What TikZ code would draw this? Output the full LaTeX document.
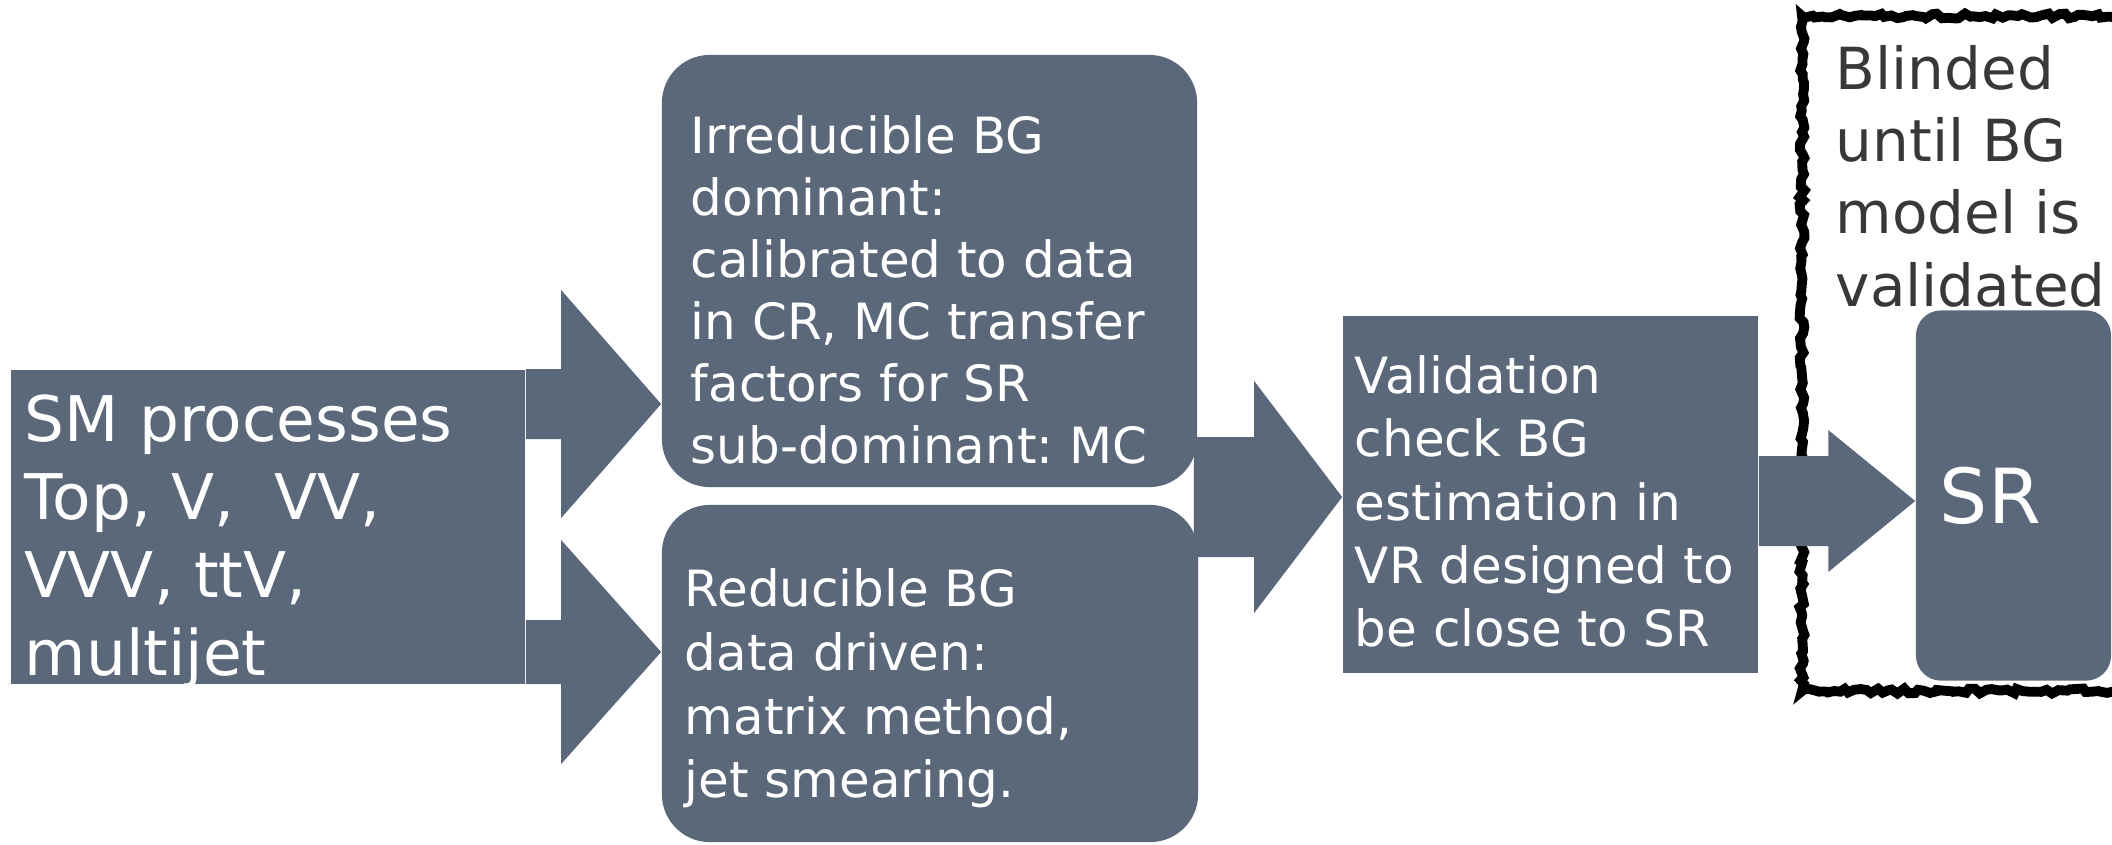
\documentclass[tikz,border=0pt]{standalone}
\usepackage{fontspec}
\setmainfont{DejaVu Sans}
\frenchspacing
\usepackage{tikz}
\usetikzlibrary{positioning,calc,backgrounds,decorations.pathmorphing}

\definecolor{slate}{RGB}{90,104,121}
\definecolor{inkgray}{RGB}{56,56,56}

\tikzset{
  block/.style={fill=slate, inner sep=0pt},
  roundblock/.style={block, rounded corners=0.48cm},
  boxtext/.style={text=white, align=left, inner sep=0pt, anchor=west},
  chalk/.style={draw=black, line width=2.8pt, decorate,
    decoration={random steps, segment length=1.5pt, amplitude=0.7pt}},
}

% block arrow: start, tip, half shaft, half head, head length
\newcommand{\blockarrow}[5]{%
  \fill[slate] ($(#1)+(0,#3)$) -- ($(#2)+(-#5,#3)$) -- ($(#2)+(-#5,#4)$) -- (#2)
    -- ($(#2)+(-#5,-#4)$) -- ($(#2)+(-#5,-#3)$) -- ($(#1)+(0,-#3)$) -- cycle;}

\begin{document}
\begin{tikzpicture}[x=0.01cm, y=-0.01cm]
\pgfmathsetseed{7}
\useasboundingbox (0,0) rectangle (2112,844);
\clip (0,0) rectangle (2112,844);

% boxes
\node[block, minimum width=5.14cm, minimum height=3.14cm] (sm) at (268,527) {};
\node[roundblock, minimum width=5.35cm, minimum height=4.32cm] (irr) at (929.5,271) {};
\node[roundblock, minimum width=5.36cm, minimum height=3.37cm] (red) at (930,673.5) {};
\node[block, minimum width=4.15cm, minimum height=3.57cm] (val) at (1550.5,494.5) {};
\node[block, rounded corners=0.25cm, minimum width=1.95cm, minimum height=3.70cm] (sr) at (2013.5,495.5) {};

% texts
\node[boxtext, right=0.14cm of sm.west, yshift=-0.15cm,
  font=\fontsize{17.9}{22.2}\selectfont] (smtext)
  {SM processes\\Top, V,~ VV,\\VVV, ttV,\\multijet};
\node[boxtext, right=0.29cm of irr.west, yshift=-0.19cm,
  font=\fontsize{14.2}{17.6}\selectfont] (irrtext)
  {Irreducible BG\\dominant:\\calibrated to data\\in CR, MC transfer\\factors for SR\\sub-dominant: MC};
\node[boxtext, right=0.23cm of red.west, yshift=-0.15cm,
  font=\fontsize{14.2}{18.1}\selectfont] (redtext)
  {Reducible BG\\data driven:\\matrix method,\\jet smearing.};
\node[boxtext, right=0.12cm of val.west, yshift=-0.07cm,
  font=\fontsize{14.2}{18.0}\selectfont] (valtext)
  {Validation\\check BG\\estimation in\\VR designed to\\be close to SR};
\node[boxtext, right=0.24cm of sr.west, font=\fontsize{21.6}{26}\selectfont] (srtext) {SR};
\node[text=inkgray, align=left, anchor=north west, inner sep=0pt,
  font=\fontsize{16.5}{20.5}\selectfont] (blind) at (1835,45)
  {Blinded\\until BG\\model is\\validated};

\coordinate (up) at (0,404);
\coordinate (lo) at (0,652);
\coordinate (mid) at (0,497);
\coordinate (srl) at (0,501);
\coordinate (join) at ($(irr.east |- mid)+(-4,0)$);

\begin{scope}[on background layer]
% blinded region
\draw[chalk] (1802,16) rectangle (2170,691);
% arrows
\blockarrow{sm.east |- up}{irr.west |- up}{35}{114}{100}
\blockarrow{sm.east |- lo}{red.west |- lo}{32}{112}{100}
\blockarrow{join}{val.west |- mid}{60}{116}{88}
\blockarrow{val.east |- srl}{sr.west |- srl}{45}{71}{87}
\end{scope}
\end{tikzpicture}
\end{document}
